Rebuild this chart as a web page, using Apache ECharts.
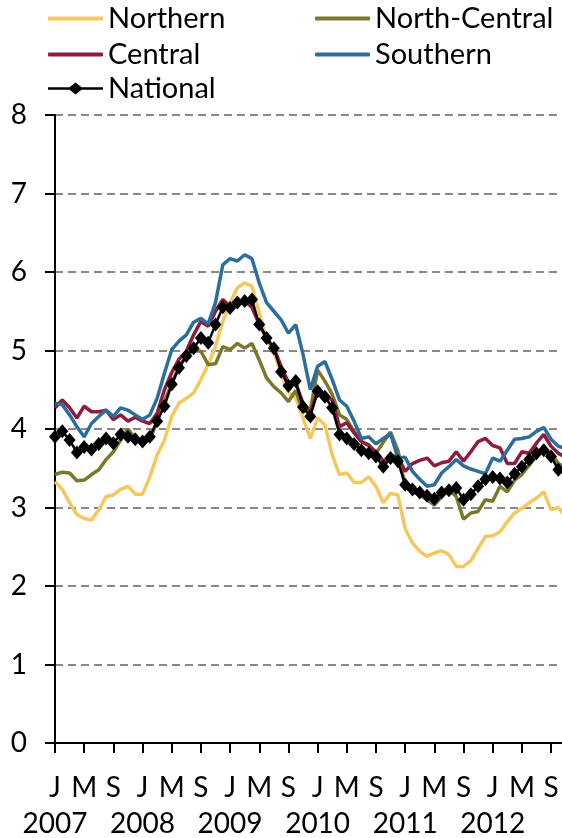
<!DOCTYPE html>
<html>
<head>
<meta charset="utf-8">
<script src="https://cdn.jsdelivr.net/npm/echarts@6/dist/echarts.min.js"></script>
<style>
  body { margin: 0; background: #fff; }
  #chart { width: 562px; height: 838px; }
</style>
</head>
<body>
<div id="chart"></div>
<script>
// monthly, Jan 2007 onwards (x = month index)
const years = ['2007', '2008', '2009', '2010', '2011', '2012'];
const monthLetters = ['J', 'F', 'M', 'A', 'M', 'J', 'J', 'A', 'S', 'O', 'N', 'D'];
const yTicks = [0, 1, 2, 3, 4, 5, 6, 7, 8];

const northern = [
  3.33, 3.23, 3.06, 2.91, 2.86, 2.84, 2.97, 3.14, 3.16, 3.23, 3.27, 3.17, 3.17, 3.39, 3.67, 3.86, 4.16, 4.33,
  4.39, 4.46, 4.63, 4.82, 5.05, 5.37, 5.61, 5.80, 5.86, 5.82, 5.48, 5.14, 4.97, 4.71, 4.46, 4.40, 4.14,
  3.88, 4.14, 4.05, 3.67, 3.42, 3.44, 3.32, 3.32, 3.39, 3.27, 3.06, 3.18, 3.16, 2.73, 2.55, 2.44, 2.38,
  2.42, 2.45, 2.40, 2.25, 2.25, 2.32, 2.48, 2.63, 2.64, 2.69, 2.82, 2.93, 2.99, 3.06, 3.12, 3.20, 2.97, 3.00, 2.88
];
const northCentral = [
  3.42, 3.45, 3.44, 3.34, 3.35, 3.42, 3.48, 3.61, 3.71, 3.86, 4.00, 3.88, 3.82, 3.86, 4.10, 4.35, 4.58, 4.80,
  4.93, 5.00, 4.99, 4.82, 4.83, 5.05, 5.01, 5.09, 5.03, 5.09, 4.88, 4.65, 4.54, 4.46, 4.35, 4.49, 4.22,
  4.24, 4.75, 4.61, 4.44, 4.18, 4.12, 3.97, 3.84, 3.80, 3.69, 3.83, 3.96, 3.73, 3.27, 3.20, 3.16, 3.10,
  3.03, 3.14, 3.22, 3.14, 2.85, 2.93, 2.95, 3.10, 3.08, 3.27, 3.20, 3.35, 3.42, 3.54, 3.65, 3.73, 3.69, 3.56, 3.50
];
const central = [
  4.27, 4.37, 4.27, 4.14, 4.29, 4.22, 4.22, 4.24, 4.12, 4.18, 4.10, 4.15, 4.10, 4.07, 4.20, 4.50, 4.72, 4.89,
  4.99, 5.20, 5.37, 5.31, 5.50, 5.65, 5.56, 5.58, 5.63, 5.55, 5.33, 5.16, 5.03, 4.80, 4.59, 4.58, 4.33,
  4.20, 4.49, 4.42, 4.37, 4.03, 4.08, 3.95, 3.84, 3.79, 3.71, 3.59, 3.65, 3.66, 3.46, 3.56, 3.60, 3.63,
  3.53, 3.57, 3.59, 3.71, 3.59, 3.71, 3.84, 3.88, 3.79, 3.76, 3.56, 3.56, 3.71, 3.69, 3.82, 3.93, 3.78, 3.69, 3.64
];
const southern = [
  4.33, 4.31, 4.18, 4.03, 3.90, 4.07, 4.16, 4.24, 4.16, 4.27, 4.24, 4.18, 4.12, 4.18, 4.39, 4.71, 5.01, 5.12,
  5.20, 5.36, 5.41, 5.34, 5.61, 6.09, 6.17, 6.14, 6.22, 6.17, 5.86, 5.61, 5.50, 5.39, 5.22, 5.33, 4.95,
  4.50, 4.80, 4.86, 4.63, 4.37, 4.29, 4.10, 3.88, 3.90, 3.81, 3.88, 3.94, 3.63, 3.64, 3.46, 3.36, 3.27,
  3.29, 3.44, 3.52, 3.61, 3.53, 3.49, 3.46, 3.43, 3.63, 3.59, 3.73, 3.87, 3.88, 3.90, 3.97, 4.02, 3.87, 3.78, 3.75
];
const national = [
  3.90, 3.97, 3.86, 3.70, 3.77, 3.74, 3.81, 3.88, 3.82, 3.93, 3.90, 3.87, 3.84, 3.90, 4.10, 4.29, 4.57, 4.78,
  4.93, 5.03, 5.16, 5.10, 5.33, 5.55, 5.54, 5.61, 5.63, 5.65, 5.33, 5.16, 5.03, 4.73, 4.55, 4.61, 4.28,
  4.16, 4.48, 4.41, 4.27, 3.93, 3.88, 3.81, 3.73, 3.69, 3.65, 3.52, 3.63, 3.59, 3.29, 3.23, 3.19, 3.15,
  3.11, 3.19, 3.22, 3.25, 3.10, 3.17, 3.27, 3.36, 3.39, 3.37, 3.32, 3.43, 3.52, 3.61, 3.69, 3.73, 3.65, 3.48, 3.42
];

var font = 'Lato';
var legendText = { fontFamily: font, fontSize: 29, color: '#000' };
// thin line with a diamond in the middle, 55 x 12 box
var diamondLine = 'path://M0,4.75H21.5L27.5,0L33.5,4.75H55V7.25H33.5L27.5,12L21.5,7.25H0Z';
var xMax = 69.5;   // plot is cut at the right edge

var chart = echarts.init(document.getElementById('chart'));

function pairs(arr) {
  return arr.map(function (v, i) { return [i, v]; });
}

function lineSeries(name, data, color) {
  return {
    name: name,
    type: 'line',
    data: pairs(data),
    symbol: 'none',
    lineStyle: { color: color, width: 3.5 },
    itemStyle: { color: color }
  };
}

var option = {
  animation: false,
  backgroundColor: '#fff',
  textStyle: { fontFamily: font },
  legend: [
    {
      orient: 'vertical', left: 48, top: 4, padding: 0,
      icon: 'roundRect', itemWidth: 55, itemHeight: 4, itemGap: 7,
      data: ['Northern', 'Central'],
      textStyle: legendText
    },
    {
      orient: 'vertical', left: 315, top: 4, padding: 0,
      icon: 'roundRect', itemWidth: 55, itemHeight: 4, itemGap: 7,
      data: ['North-Central', 'Southern'],
      textStyle: legendText
    },
    {
      left: 48, top: 74, padding: 0,
      itemWidth: 55, itemHeight: 12,
      data: [{ name: 'National', icon: diamondLine }],
      textStyle: legendText
    }
  ],
  grid: { left: 55, top: 115, bottom: 94, right: 0, containLabel: false },
  xAxis: [
    {
      // month letters J / M / S
      type: 'value',
      min: 0, max: xMax, interval: 4,
      axisLine: { show: true, onZero: false, lineStyle: { color: '#000', width: 2 } },
      axisTick: { show: true, inside: false, length: 10, lineStyle: { color: '#000', width: 2 } },
      axisLabel: {
        showMaxLabel: false,
        formatter: function (val) { return monthLetters[val % 12]; },
        margin: 31, fontSize: 28, fontFamily: font, color: '#000'
      },
      splitLine: { show: false }
    },
    {
      // year row under the January letters
      type: 'value',
      min: 0, max: xMax, interval: 12,
      position: 'bottom',
      axisLine: { show: false, onZero: false },
      axisTick: { show: false },
      axisLabel: {
        showMaxLabel: false,
        formatter: function (val) { return years[val / 12] || ''; },
        margin: 67, fontSize: 28, fontFamily: font, color: '#000'
      },
      splitLine: { show: false }
    }
  ],
  yAxis: {
    type: 'value',
    min: yTicks[0],
    max: yTicks[yTicks.length - 1],
    interval: 1,
    axisLine: { show: true, lineStyle: { color: '#000', width: 2 } },
    axisTick: { show: true, length: 10, lineStyle: { color: '#000', width: 2 } },
    axisLabel: { margin: 28, fontSize: 28, fontFamily: font, color: '#000' },
    splitLine: { show: true, lineStyle: { color: '#888', width: 2, type: [8, 5] } }
  },
  series: [
    lineSeries('Northern', northern, '#F5C85E'),
    lineSeries('North-Central', northCentral, '#7A792B'),
    lineSeries('Central', central, '#8E1C3D'),
    lineSeries('Southern', southern, '#2B6E9D'),
    {
      name: 'National',
      type: 'line',
      data: pairs(national),
      symbol: 'diamond',
      symbolSize: [12, 14],
      showAllSymbol: true,
      lineStyle: { color: '#000', width: 2.5 },
      itemStyle: { color: '#000' }
    }
  ]
};

chart.setOption(option);
window.onresize = function () { chart.resize(); };
</script>
</body>
</html>
